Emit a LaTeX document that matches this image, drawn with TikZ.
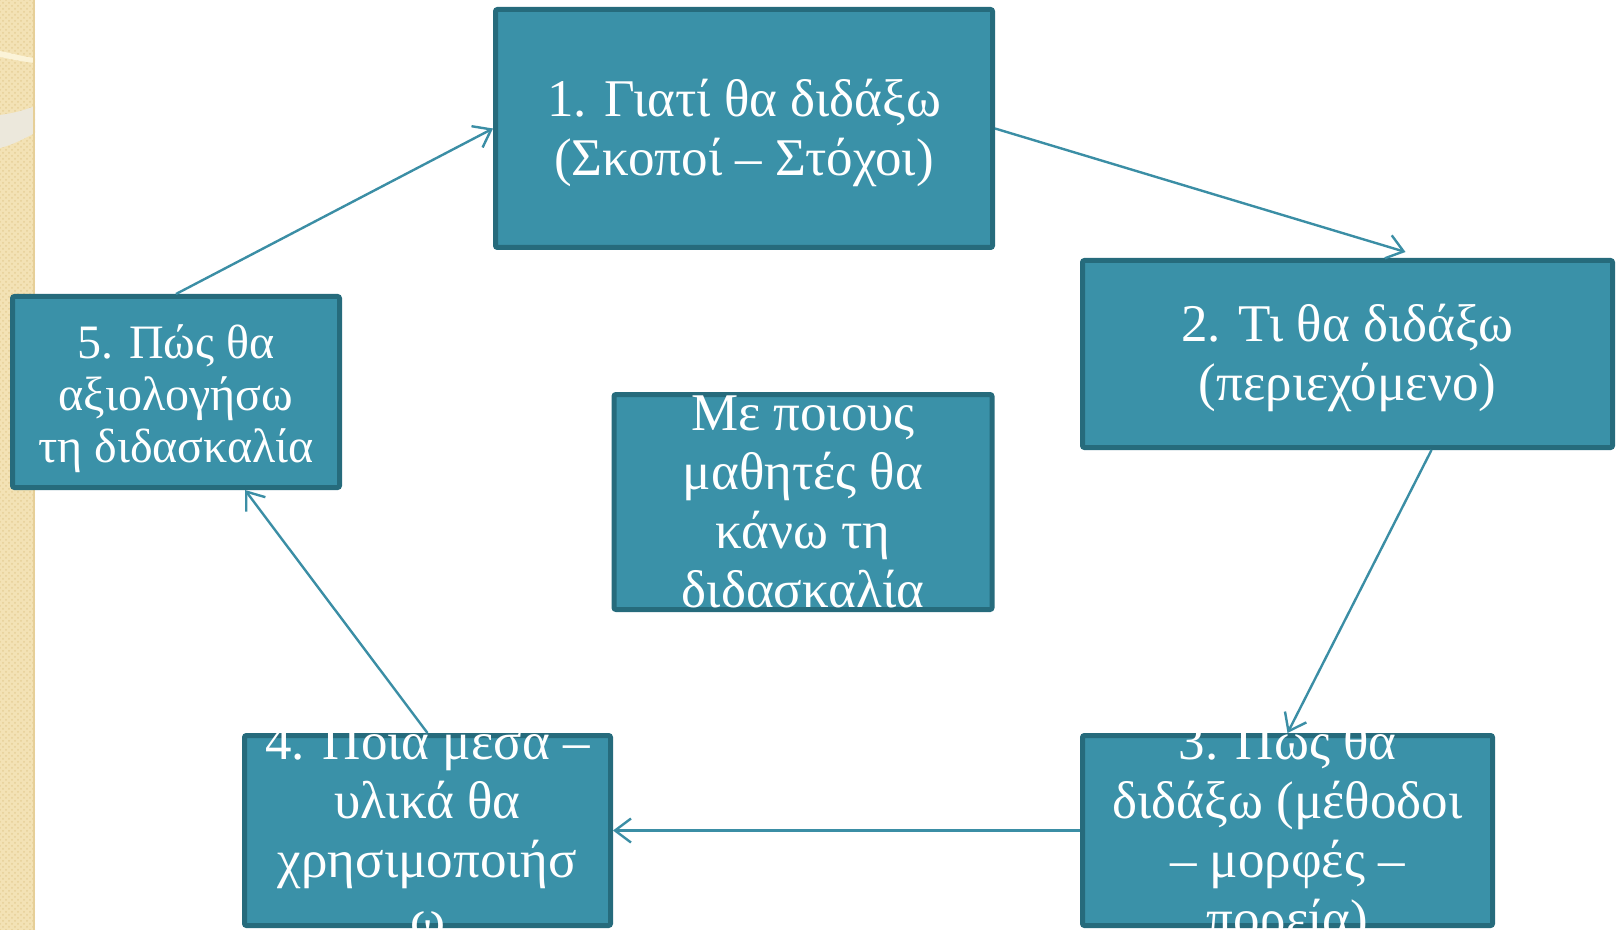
\documentclass[tikz,border=0pt]{standalone}
\usepackage{fontspec}
\setmainfont{Liberation Serif}
\usetikzlibrary{arrows.meta,patterns}
\definecolor{boxfill}{HTML}{3A91A8}
\definecolor{boxedge}{HTML}{266B7C}
\definecolor{arrowcol}{HTML}{3B8EA5}
\definecolor{stripbg}{HTML}{F3E2B5}
\definecolor{stripdot}{HTML}{E6CF98}
\definecolor{bandwhite}{HTML}{ECE8DC}
\definecolor{bandcream}{HTML}{FBF3D8}
\newcommand{\boxtxt}[2][9pt]{\smash{\raisebox{-#1}{\begin{tabular}{@{}c@{}}#2\end{tabular}}}}
\tikzset{
  stepbox/.style={draw=boxedge, fill=boxfill, line width=2.5pt, rounded corners=1pt,
    inner sep=0pt, text=white, font=\fontsize{26.5}{29.5}\selectfont},
  flow/.style={draw=arrowcol, line width=1.2pt, -{Straight Barb[length=8pt,width=12pt]}}
}
\begin{document}
\begin{tikzpicture}[x=0.5pt,y=-0.5pt]
\useasboundingbox (0,0) rectangle (1620,930);
% left decorative strip
\fill[stripbg] (0,0) rectangle (35,930);
\fill[pattern=crosshatch dots, pattern color=stripdot] (0,0) rectangle (35,930);
\fill[bandcream] (0,51) .. controls (15,54) and (25,57) .. (35,58) -- (35,63) .. controls (25,62) and (15,60) .. (0,57) -- cycle;
\fill[bandwhite] (0,115) .. controls (15,113) and (25,110) .. (35,106) -- (35,133) .. controls (25,138) and (15,144) .. (0,148) -- cycle;
\fill[stripdot] (33,0) rectangle (35,930);

\node[stepbox, minimum width=248.5pt, minimum height=119pt] (b1) at (744,128.5)
  {\boxtxt{1. Γιατί θα διδάξω\\(Σκοποί – Στόχοι)}};
\node[stepbox, minimum width=265pt, minimum height=93.5pt] (b2) at (1347.5,354)
  {\boxtxt{2. Τι θα διδάξω\\(περιεχόμενο)}};
\node[stepbox, minimum width=205pt, minimum height=95pt] (b3) at (1287.5,830.5)
  {\boxtxt{3. Πώς θα\\διδάξω (μέθοδοι\\– μορφές –\\πορεία)}};
\node[stepbox, minimum width=183pt, minimum height=95pt] (b4) at (427.5,830.5)
  {\boxtxt{4. Ποια μέσα –\\υλικά θα\\χρησιμοποιήσ\\ω}};
\node[stepbox, minimum width=163.5pt, minimum height=95.5pt, font=\fontsize{24}{26}\selectfont] (b5) at (176,392)
  {\boxtxt[10.5pt]{5. Πώς θα\\αξιολογήσω\\τη διδασκαλία}};
\node[stepbox, minimum width=189pt, minimum height=107.5pt] (bc) at (803,502)
  {\boxtxt{Με ποιους\\μαθητές θα\\κάνω τη\\διδασκαλία}};

\draw[flow] (b1.east) -- ([xshift=29pt,yshift=3pt]b2.north);
\draw[flow] ([xshift=42pt]b2.south) -- (b3.north);
\draw[flow] (b3.west) -- (b4.east);
\draw[flow] (b4.north) -- ([xshift=34.5pt]b5.south);
\draw[flow] (b5.north) -- (b1.west);
\end{tikzpicture}
\end{document}
